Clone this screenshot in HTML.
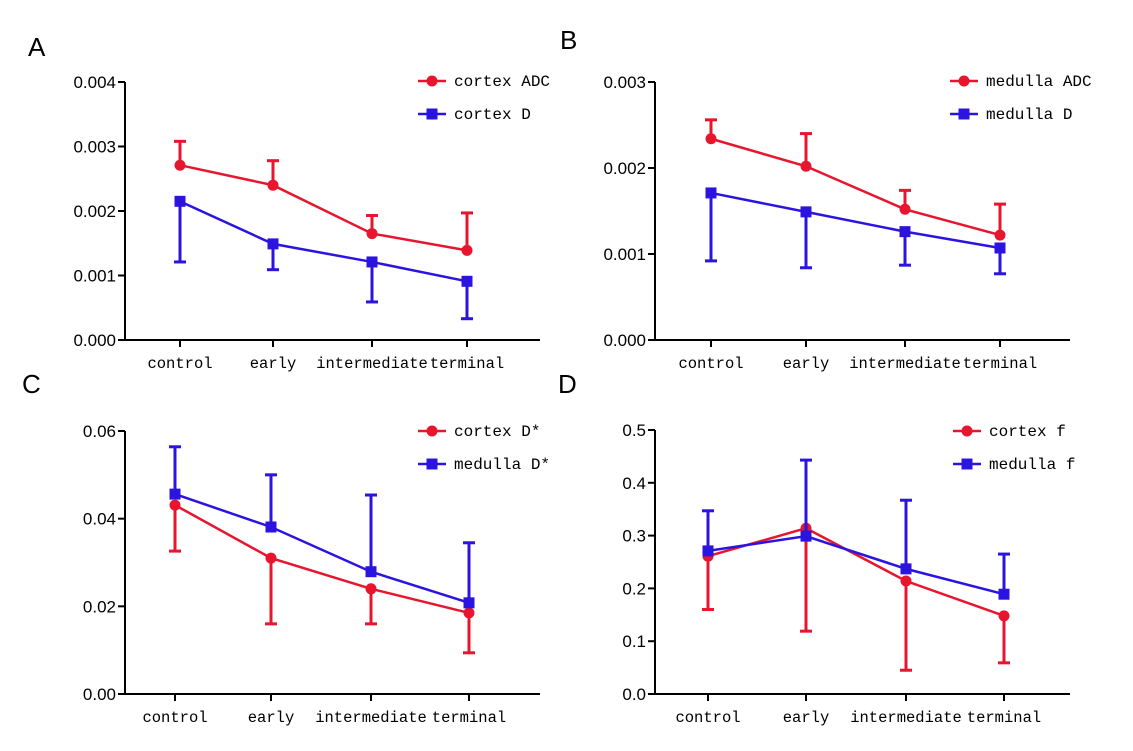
<!DOCTYPE html>
<html><head><meta charset="utf-8"><style>
html,body{margin:0;padding:0;background:#fff}
svg{display:block}
.tick{font:17px "Liberation Sans",sans-serif;fill:#000}
.cat{font:15.5px "Liberation Mono",monospace;fill:#000}
.leg{font:16px "Liberation Mono",monospace;fill:#000}
.plet{font:26px "Liberation Sans",sans-serif;fill:#000}
</style></head><body>
<svg id="chart" width="1133" height="751" viewBox="0 0 1133 751" xmlns="http://www.w3.org/2000/svg"></svg>
<script>
const categories = ["control","early","intermediate","terminal"];
// Panel A
const aAdc = [0.00271,0.00240,0.00165,0.00139];
const aAdcErr = [0.00308,0.00278,0.00193,0.00197];
const aD = [0.00215,0.00149,0.00121,0.00091];
const aDErr = [0.00121,0.00109,0.00059,0.00033];
const aTicks = ["0.000","0.001","0.002","0.003","0.004"];
// Panel B
const bAdc = [0.00234,0.00202,0.00152,0.00122];
const bAdcErr = [0.00256,0.00240,0.00174,0.00158];
const bD = [0.00171,0.00149,0.00126,0.00107];
const bDErr = [0.00092,0.00084,0.00087,0.00077];
const bTicks = ["0.000","0.001","0.002","0.003"];
// Panel C
const cCortex = [0.0431,0.0310,0.0240,0.0185];
const cCortexErr = [0.0326,0.0160,0.0160,0.0094];
const cMedulla = [0.0456,0.0381,0.0279,0.0208];
const cMedullaErr = [0.0564,0.0500,0.0454,0.0345];
const cTicks = ["0.00","0.02","0.04","0.06"];
// Panel D
const dCortex = [0.261,0.314,0.214,0.148];
const dCortexErr = [0.160,0.119,0.045,0.059];
const dMedulla = [0.271,0.299,0.237,0.189];
const dMedullaErr = [0.347,0.443,0.367,0.265];
const dTicks = ["0.0","0.1","0.2","0.3","0.4","0.5"];

const RED="#e8152e", BLUE="#2c14e0";
const svg=document.getElementById('chart');
const NS="http://www.w3.org/2000/svg";
function mk(tag,attrs,parent){const e=document.createElementNS(NS,tag);for(const k in attrs)e.setAttribute(k,attrs[k]);(parent||svg).appendChild(e);return e;}

function panel(cfg){
  const g=mk('g',{});
  
  
  const t=mk('text',{x:cfg.letX,y:cfg.letY,class:'plet'},g);t.textContent=cfg.letter;
  
  
  const ymax=parseFloat(cfg.ticks[cfg.ticks.length-1]);
  const y=v=>cfg.y0-(v/ymax)*(cfg.y0-cfg.y1);
  const x=i=>cfg.xs[i];
  const ax=mk('path',{d:`M${cfg.ax},${cfg.y1}V${cfg.y0}H${cfg.axEnd}`,stroke:'#000','stroke-width':2,fill:'none'},g);
  
  
  cfg.ticks.forEach((tl,i)=>{
    const v=parseFloat(tl), yy=y(v);
    mk('line',{x1:cfg.ax-7,x2:cfg.ax,y1:yy,y2:yy,stroke:'#000','stroke-width':2},g);
    const tt=mk('text',{x:cfg.ax-9,y:yy+6,class:'tick','text-anchor':'end'},g);tt.textContent=tl;
    
    
  });
  categories.forEach((c,i)=>{
    mk('line',{x1:x(i),x2:x(i),y1:cfg.y0,y2:cfg.y0+7,stroke:'#000','stroke-width':2},g);
    const ct=mk('text',{x:x(i),y:cfg.y0+28,class:'cat','text-anchor':'middle'},g);ct.textContent=c;
    
    
  });
  cfg.series.forEach((s,si)=>{
    const sg=mk('g',{},g);
    
    
    s.vals.forEach((v,i)=>{
      const e=s.err[i];
      mk('line',{x1:x(i),x2:x(i),y1:y(v),y2:y(e),stroke:s.color,'stroke-width':3},sg);
      mk('line',{x1:x(i)-6,x2:x(i)+6,y1:y(e),y2:y(e),stroke:s.color,'stroke-width':3},sg);
    });
    mk('polyline',{points:s.vals.map((v,i)=>x(i)+','+y(v)).join(' '),stroke:s.color,'stroke-width':2.5,fill:'none'},sg);
    s.vals.forEach((v,i)=>{
      let m;
      if(s.shape==='c') m=mk('circle',{cx:x(i),cy:y(v),r:5.5,fill:s.color},sg);
      else m=mk('rect',{x:x(i)-5.5,y:y(v)-5.5,width:11,height:11,fill:s.color},sg);
      
      
    });
    const ly=cfg.legY+si*33;
    const lg=mk('g',{},g);
    
    
    mk('line',{x1:cfg.legX,x2:cfg.legX+28,y1:ly,y2:ly,stroke:s.color,'stroke-width':2.5},lg);
    if(s.shape==='c') mk('circle',{cx:cfg.legX+14,cy:ly,r:5.5,fill:s.color},lg);
    else mk('rect',{x:cfg.legX+8.5,y:ly-5.5,width:11,height:11,fill:s.color},lg);
    const lt=mk('text',{x:cfg.legX+36,y:ly+5,class:'leg'},lg);lt.textContent=s.name;
  });
}
panel({letter:'A',letX:28,letY:56,ax:125,axEnd:540,y0:340,y1:82,xs:[180,273,372,467],ticks:aTicks,legX:418,legY:81,
  series:[{name:'cortex ADC',vals:aAdc,err:aAdcErr,color:RED,shape:'c'},{name:'cortex D',vals:aD,err:aDErr,color:BLUE,shape:'s'}]});
panel({letter:'B',letX:560,letY:49,ax:655,axEnd:1070,y0:340,y1:82,xs:[711,806,905,1000],ticks:bTicks,legX:950,legY:81,
  series:[{name:'medulla ADC',vals:bAdc,err:bAdcErr,color:RED,shape:'c'},{name:'medulla D',vals:bD,err:bDErr,color:BLUE,shape:'s'}]});
panel({letter:'C',letX:22,letY:393,ax:125,axEnd:540,y0:694,y1:431,xs:[175,271,371,469],ticks:cTicks,legX:418,legY:431,
  series:[{name:'cortex D*',vals:cCortex,err:cCortexErr,color:RED,shape:'c'},{name:'medulla D*',vals:cMedulla,err:cMedullaErr,color:BLUE,shape:'s'}]});
panel({letter:'D',letX:558,letY:393,ax:655,axEnd:1070,y0:694,y1:430,xs:[708,806,906,1004],ticks:dTicks,legX:953,legY:431,
  series:[{name:'cortex f',vals:dCortex,err:dCortexErr,color:RED,shape:'c'},{name:'medulla f',vals:dMedulla,err:dMedullaErr,color:BLUE,shape:'s'}]});
</script>
</body></html>
